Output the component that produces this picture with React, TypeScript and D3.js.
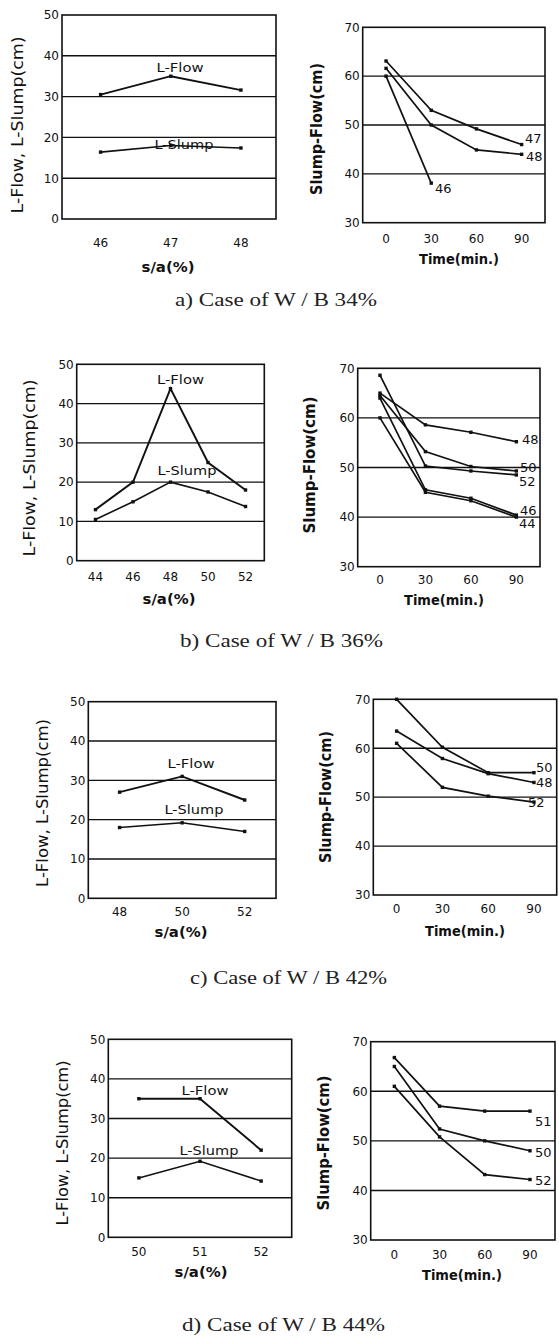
import React from "react"
import * as d3 from "d3"

// shared ticks
const times = [0, 30, 60, 90]
const leftTicks = [0, 10, 20, 30, 40, 50]
const rightTicks = [30, 40, 50, 60, 70]
const leftGrid = [10, 20, 30, 40]
const rightGrid = [40, 50, 60]

// a) W/B 34%
const saA = [46, 47, 48]
const flowA = [30.5, 35, 31.6]
const slumpA = [16.4, 18, 17.4]
const sfA46 = [60, 38.1]
const sfA47 = [63.1, 53, 49.2, 46]
const sfA48 = [61.6, 50, 44.9, 44]

// b) W/B 36%
const saB = [44, 46, 48, 50, 52]
const flowB = [13, 20, 43.8, 25, 18]
const slumpB = [10.5, 15, 20, 17.5, 13.8]
const sfB44 = [60, 45, 43.3, 40]
const sfB46 = [64, 45.5, 43.8, 40.4]
const sfB48 = [65, 58.6, 57.1, 55.2]
const sfB50 = [64.5, 53.2, 50.2, 49.3]
const sfB52 = [68.6, 50.3, 49.3, 48.5]

// c) W/B 42%
const saC = [48, 50, 52]
const flowC = [27, 31, 25]
const slumpC = [18, 19.2, 17]
const sfC48 = [63.5, 57.9, 54.8, 53]
const sfC50 = [70, 60.2, 55, 55]
const sfC52 = [61, 52, 50.2, 49]

// d) W/B 44%
const saD = [50, 51, 52]
const flowD = [35, 35, 22]
const slumpD = [15, 19.2, 14.2]
const sfD50 = [65, 52.4, 50, 48]
const sfD51 = [66.8, 57, 56, 56]
const sfD52 = [61, 50.8, 43.2, 42.2]

const captions = ["a) Case of W / B 34%", "b) Case of W / B 36%", "c) Case of W / B 42%", "d) Case of W / B 44%"]

const SANS = "DejaVu Sans"
const INK = "#111"

// panel layouts
const leftGeo = [
	{ l: 62, r: 276, t: 15, b: 219, xd: [45.45, 48.5], tickY: 247, xt: [168, 272], yt: [23, 125, 177], fl: [180, 72], sl: [184, 149] },
	{ l: 76.7, r: 264.3, t: 364.3, b: 560.7, xd: [43, 53], tickY: 581, xt: [169, 604], yt: [35, 468, 177], fl: [180.5, 384], sl: [187, 475] },
	{ l: 88.3, r: 276, t: 701.7, b: 898.3, xd: [47, 53], tickY: 916, xt: [181, 937], yt: [48, 803, 168], fl: [191, 768], sl: [194, 814] },
	{ l: 108.3, r: 291.7, t: 1039.3, b: 1237.3, xd: [49.5, 52.5], tickY: 1256, xt: [201, 1277], yt: [68, 1143, 165], fl: [205, 1095], sl: [209, 1155] },
]

const rightGeo = [
	{ l: 362.7, r: 545, t: 27.3, b: 222.7, xd: [-15.5, 105.5], tickY: 243, xt: [459, 264], yt: [322, 129, 132],
		lbl: { "46": [435, 193], "47": [525, 143], "48": [526, 161] } },
	{ l: 357.7, r: 540, t: 368.3, b: 566.7, xd: [-14.7, 105.6], tickY: 584, xt: [444, 605], yt: [315, 465, 137],
		lbl: { "44": [519, 528], "46": [520, 515], "48": [522, 444], "50": [520, 472], "52": [519, 486] } },
	{ l: 373.3, r: 556.7, t: 699.3, b: 895, xd: [-15.3, 104.9], tickY: 913, xt: [465, 936], yt: [331, 797, 132],
		lbl: { "48": [536, 787], "50": [536, 772], "52": [528, 807] } },
	{ l: 370.7, r: 555, t: 1041.7, b: 1240, xd: [-15.7, 106.6], tickY: 1259, xt: [462, 1280], yt: [329, 1143, 135],
		lbl: { "50": [535, 1157], "51": [535, 1126], "52": [535, 1185] } },
]

const capGeo = [
	[276, 306, 202],
	[281.5, 647, 203],
	[288.5, 984, 197],
	[283.5, 1331, 203],
]

const Marker = ({ x, y }) => <rect x={x - 1.7} y={y - 1.7} width={3.4} height={3.4} fill={INK} />

const LeftPanel = ({ sa, flow, slump, g }) => {
	const x = d3.scaleLinear().domain(g.xd).range([g.l, g.r])
	const y = d3.scaleLinear().domain([0, 50]).range([g.b, g.t])
	const line = d3
		.line<number>()
		.x((_, i) => x(sa[i]))
		.y(d => y(d))

	return (
		<g fontFamily={SANS} fill={INK}>
			{leftGrid.map(v => (
				<line key={v} x1={g.l} x2={g.r} y1={y(v)} y2={y(v)} stroke={INK} strokeWidth={1.4} />
			))}
			<rect x={g.l} y={g.t} width={g.r - g.l} height={g.b - g.t} fill="none" stroke={INK} strokeWidth={1.6} />
			{leftTicks.map(v => (
				<text key={v} x={g.l - 3} y={y(v)} dy="0.36em" textAnchor="end" fontSize={12}>
					{v}
				</text>
			))}
			{sa.map(v => (
				<text key={v} x={x(v)} y={g.tickY} textAnchor="middle" fontSize={12}>
					{v}
				</text>
			))}
			<path d={line(flow)} fill="none" stroke={INK} strokeWidth={1.9} />
			<path d={line(slump)} fill="none" stroke={INK} strokeWidth={1.6} />
			{flow.map((v, i) => (
				<Marker key={"f" + i} x={x(sa[i])} y={y(v)} />
			))}
			{slump.map((v, i) => (
				<Marker key={"s" + i} x={x(sa[i])} y={y(v)} />
			))}
			<text x={g.fl[0]} y={g.fl[1]} textAnchor="middle" fontSize={12} textLength={47} lengthAdjust="spacingAndGlyphs">
				L-Flow
			</text>
			<text x={g.sl[0]} y={g.sl[1]} textAnchor="middle" fontSize={12} textLength={59} lengthAdjust="spacingAndGlyphs">
				L-Slump
			</text>
			<text x={g.xt[0]} y={g.xt[1]} textAnchor="middle" fontSize={14} fontWeight="bold" textLength={53} lengthAdjust="spacingAndGlyphs">
				s/a(%)
			</text>
			<text
				transform={`translate(${g.yt[0]},${g.yt[1]}) rotate(-90)`}
				textAnchor="middle"
				fontSize={15.5}
				textLength={g.yt[2]}
				lengthAdjust="spacingAndGlyphs"
			>
				L-Flow, L-Slump(cm)
			</text>
		</g>
	)
}

const RightPanel = ({ series, g }) => {
	const x = d3.scaleLinear().domain(g.xd).range([g.l, g.r])
	const y = d3.scaleLinear().domain([30, 70]).range([g.b, g.t])
	const line = d3
		.line<number>()
		.x((_, i) => x(times[i]))
		.y(d => y(d))

	return (
		<g fontFamily={SANS} fill={INK}>
			{rightGrid.map(v => (
				<line key={v} x1={g.l} x2={g.r} y1={y(v)} y2={y(v)} stroke={INK} strokeWidth={1.4} />
			))}
			<rect x={g.l} y={g.t} width={g.r - g.l} height={g.b - g.t} fill="none" stroke={INK} strokeWidth={1.6} />
			{rightTicks.map(v => (
				<text key={v} x={g.l - 3} y={y(v)} dy="0.36em" textAnchor="end" fontSize={12}>
					{v}
				</text>
			))}
			{times.map(v => (
				<text key={v} x={x(v)} y={g.tickY} textAnchor="middle" fontSize={12}>
					{v}
				</text>
			))}
			{series.map(s => (
				<g key={s.name}>
					<path d={line(s.values)} fill="none" stroke={INK} strokeWidth={1.7} />
					{s.values.map((v, i) => (
						<Marker key={i} x={x(times[i])} y={y(v)} />
					))}
					<text x={g.lbl[s.name][0]} y={g.lbl[s.name][1]} fontSize={13}>
						{s.name}
					</text>
				</g>
			))}
			<text x={g.xt[0]} y={g.xt[1]} textAnchor="middle" fontSize={14} fontWeight="bold" textLength={80} lengthAdjust="spacingAndGlyphs">
				Time(min.)
			</text>
			<text
				transform={`translate(${g.yt[0]},${g.yt[1]}) rotate(-90)`}
				textAnchor="middle"
				fontSize={15.5}
				fontWeight="bold"
				textLength={g.yt[2]}
				lengthAdjust="spacingAndGlyphs"
			>
				Slump-Flow(cm)
			</text>
		</g>
	)
}

const leftData = [
	{ sa: saA, flow: flowA, slump: slumpA },
	{ sa: saB, flow: flowB, slump: slumpB },
	{ sa: saC, flow: flowC, slump: slumpC },
	{ sa: saD, flow: flowD, slump: slumpD },
]

const rightData = [
	[
		{ name: "46", values: sfA46 },
		{ name: "47", values: sfA47 },
		{ name: "48", values: sfA48 },
	],
	[
		{ name: "44", values: sfB44 },
		{ name: "46", values: sfB46 },
		{ name: "48", values: sfB48 },
		{ name: "50", values: sfB50 },
		{ name: "52", values: sfB52 },
	],
	[
		{ name: "48", values: sfC48 },
		{ name: "50", values: sfC50 },
		{ name: "52", values: sfC52 },
	],
	[
		{ name: "50", values: sfD50 },
		{ name: "51", values: sfD51 },
		{ name: "52", values: sfD52 },
	],
]

export default function App() {
	return (
		<svg
			width={559}
			height={1344}
			viewBox="0 0 559 1344"
			style={{ position: "absolute", left: 0, top: 0, background: "#fff" }}
		>
			<rect width={559} height={1344} fill="#fff" />
			{leftData.map((d, i) => (
				<LeftPanel key={"l" + i} sa={d.sa} flow={d.flow} slump={d.slump} g={leftGeo[i]} />
			))}
			{rightData.map((s, i) => (
				<RightPanel key={"r" + i} series={s} g={rightGeo[i]} />
			))}
			{captions.map((c, i) => (
				<text
					key={c}
					x={capGeo[i][0]}
					y={capGeo[i][1]}
					textAnchor="middle"
					fontFamily="Liberation Serif"
					fontSize={18.5}
					fill="#222"
					textLength={capGeo[i][2]}
					lengthAdjust="spacingAndGlyphs"
				>
					{c}
				</text>
			))}
		</svg>
	)
}
